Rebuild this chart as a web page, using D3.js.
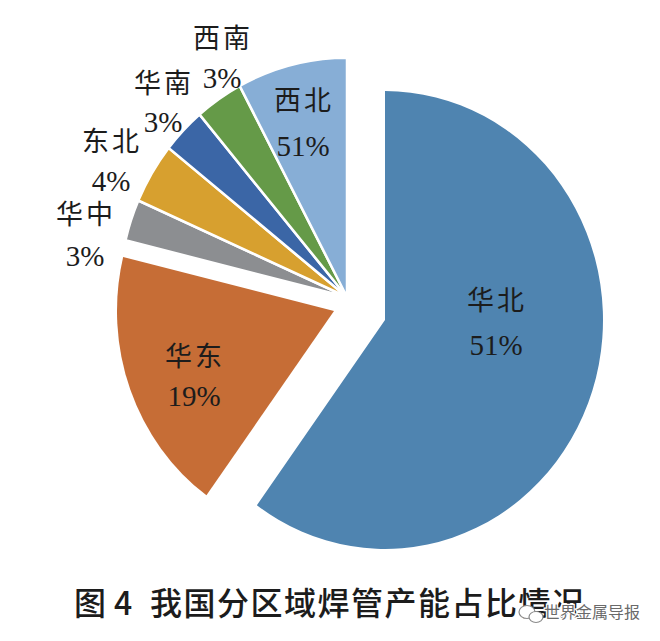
<!DOCTYPE html>
<html>
<head>
<meta charset="utf-8">
<script src="https://cdn.jsdelivr.net/npm/d3@7"></script>
<style>
  html, body { margin: 0; padding: 0; background: #fff; }
  svg { display: block; }
</style>
</head>
<body>
<div id="vis"></div>
<script>
// ----------DATA----------------
const REGIONS = ["华北", "华东", "华中", "东北", "华南", "西南", "西北"];
const SHARES = [60, 18.8, 2.8, 4.1, 3.1, 3.4, 7.8];          // slice sizes
const PRINTED = ["51%", "19%", "3%", "4%", "3%", "3%", "51%"]; // labels as printed
const COLORS = ["#4F84B0", "#C66D36", "#8C8E91", "#D7A02F", "#3B66A6", "#659A48", "#87AED6"];

// ----------PAGE SETUP----------------
const FRAME_WIDTH = 660;
const FRAME_HEIGHT = 641;
const STRETCH_Y = 1.05; // the scan is slightly taller than wide

// where each slice's apex sits, and its radius
const APEX = [
  { x: 385, y: 320, r: 218 },
  { x: 334, y: 311, r: 217 },
  { x: 347, y: 297, r: 228 },
  { x: 347, y: 297, r: 228 },
  { x: 347, y: 297, r: 228 },
  { x: 347, y: 297, r: 228 },
  { x: 347, y: 297, r: 228 }
];
const LABEL_POS = [
  { x: 496, y: 300, dy: 45 },
  { x: 194, y: 356, dy: 40 },
  { x: 85, y: 214, dy: 42 },
  { x: 111, y: 141, dy: 40 },
  { x: 163, y: 83, dy: 39 },
  { x: 222, y: 38, dy: 40 },
  { x: 303, y: 100, dy: 46 }
];

const FRAME = d3.select("#vis")
  .append("svg")
  .attr("width", FRAME_WIDTH)
  .attr("height", FRAME_HEIGHT);

// ----------PIE----------------
const pie = d3.pie().sort(null).value(d => d);
const arcs = pie(SHARES);

FRAME.append("g")
  .selectAll("path")
  .data(arcs)
  .enter()
  .append("path")
  .attr("transform", (d, i) => `translate(${APEX[i].x},${APEX[i].y}) scale(1,${STRETCH_Y})`)
  .attr("d", (d, i) => d3.arc().innerRadius(0).outerRadius(APEX[i].r)(d))
  .attr("fill", (d, i) => COLORS[i])
  .attr("stroke", "#fff")
  .attr("stroke-width", (d, i) => i < 2 ? 0 : 2.5)
  .attr("stroke-linejoin", "miter");

// ----------LABELS----------------
const labels = FRAME.append("g")
  .selectAll("g")
  .data(REGIONS)
  .enter()
  .append("g")
  .attr("fill", "#1c1c1c")
  .attr("text-anchor", "middle");

labels.append("text")
  .attr("x", (d, i) => LABEL_POS[i].x + 1)
  .attr("y", (d, i) => LABEL_POS[i].y - 2)
  .attr("dominant-baseline", "central")
  .attr("font-family", "'Noto Sans CJK SC'")
  .attr("font-weight", 400)
  .attr("font-size", 27)
  .attr("letter-spacing", 3)
  .text(d => d);

labels.append("text")
  .attr("x", (d, i) => LABEL_POS[i].x)
  .attr("y", (d, i) => LABEL_POS[i].y + LABEL_POS[i].dy)
  .attr("dominant-baseline", "central")
  .attr("font-family", "'Liberation Serif'")
  .attr("font-size", 29)
  .text((d, i) => PRINTED[i]);

// ----------CAPTION AND WATERMARK----------------
const caption = FRAME.append("text")
  .attr("y", 615)
  .attr("font-family", "'Noto Sans CJK SC'")
  .attr("font-weight", 500)
  .attr("font-size", 32)
  .attr("fill", "#1c1c1c");
caption.append("tspan").attr("x", 74).text("图");
caption.append("tspan").attr("x", 114).text("4");
caption.append("tspan").attr("x", 150).attr("letter-spacing", 1.5).text("我国分区域焊管产能占比情况");

const mark = FRAME.append("g").attr("transform", "translate(527,612)")
  .attr("fill", "#fff").attr("stroke", "#8a8a8a").attr("stroke-width", 1.2);
mark.append("ellipse").attr("cx", 0).attr("cy", 0).attr("rx", 8).attr("ry", 6.5);
mark.append("ellipse").attr("cx", 9).attr("cy", 5).attr("rx", 7).attr("ry", 5.5);

FRAME.append("text")
  .attr("x", 640)
  .attr("y", 618)
  .attr("text-anchor", "end")
  .attr("font-family", "'Noto Sans CJK SC'")
  .attr("font-size", 16)
  .attr("fill", "#6a6a6a")
  .attr("stroke", "#fff")
  .attr("stroke-width", 2.5)
  .attr("paint-order", "stroke")
  .text("世界金属导报");
</script>
</body>
</html>
